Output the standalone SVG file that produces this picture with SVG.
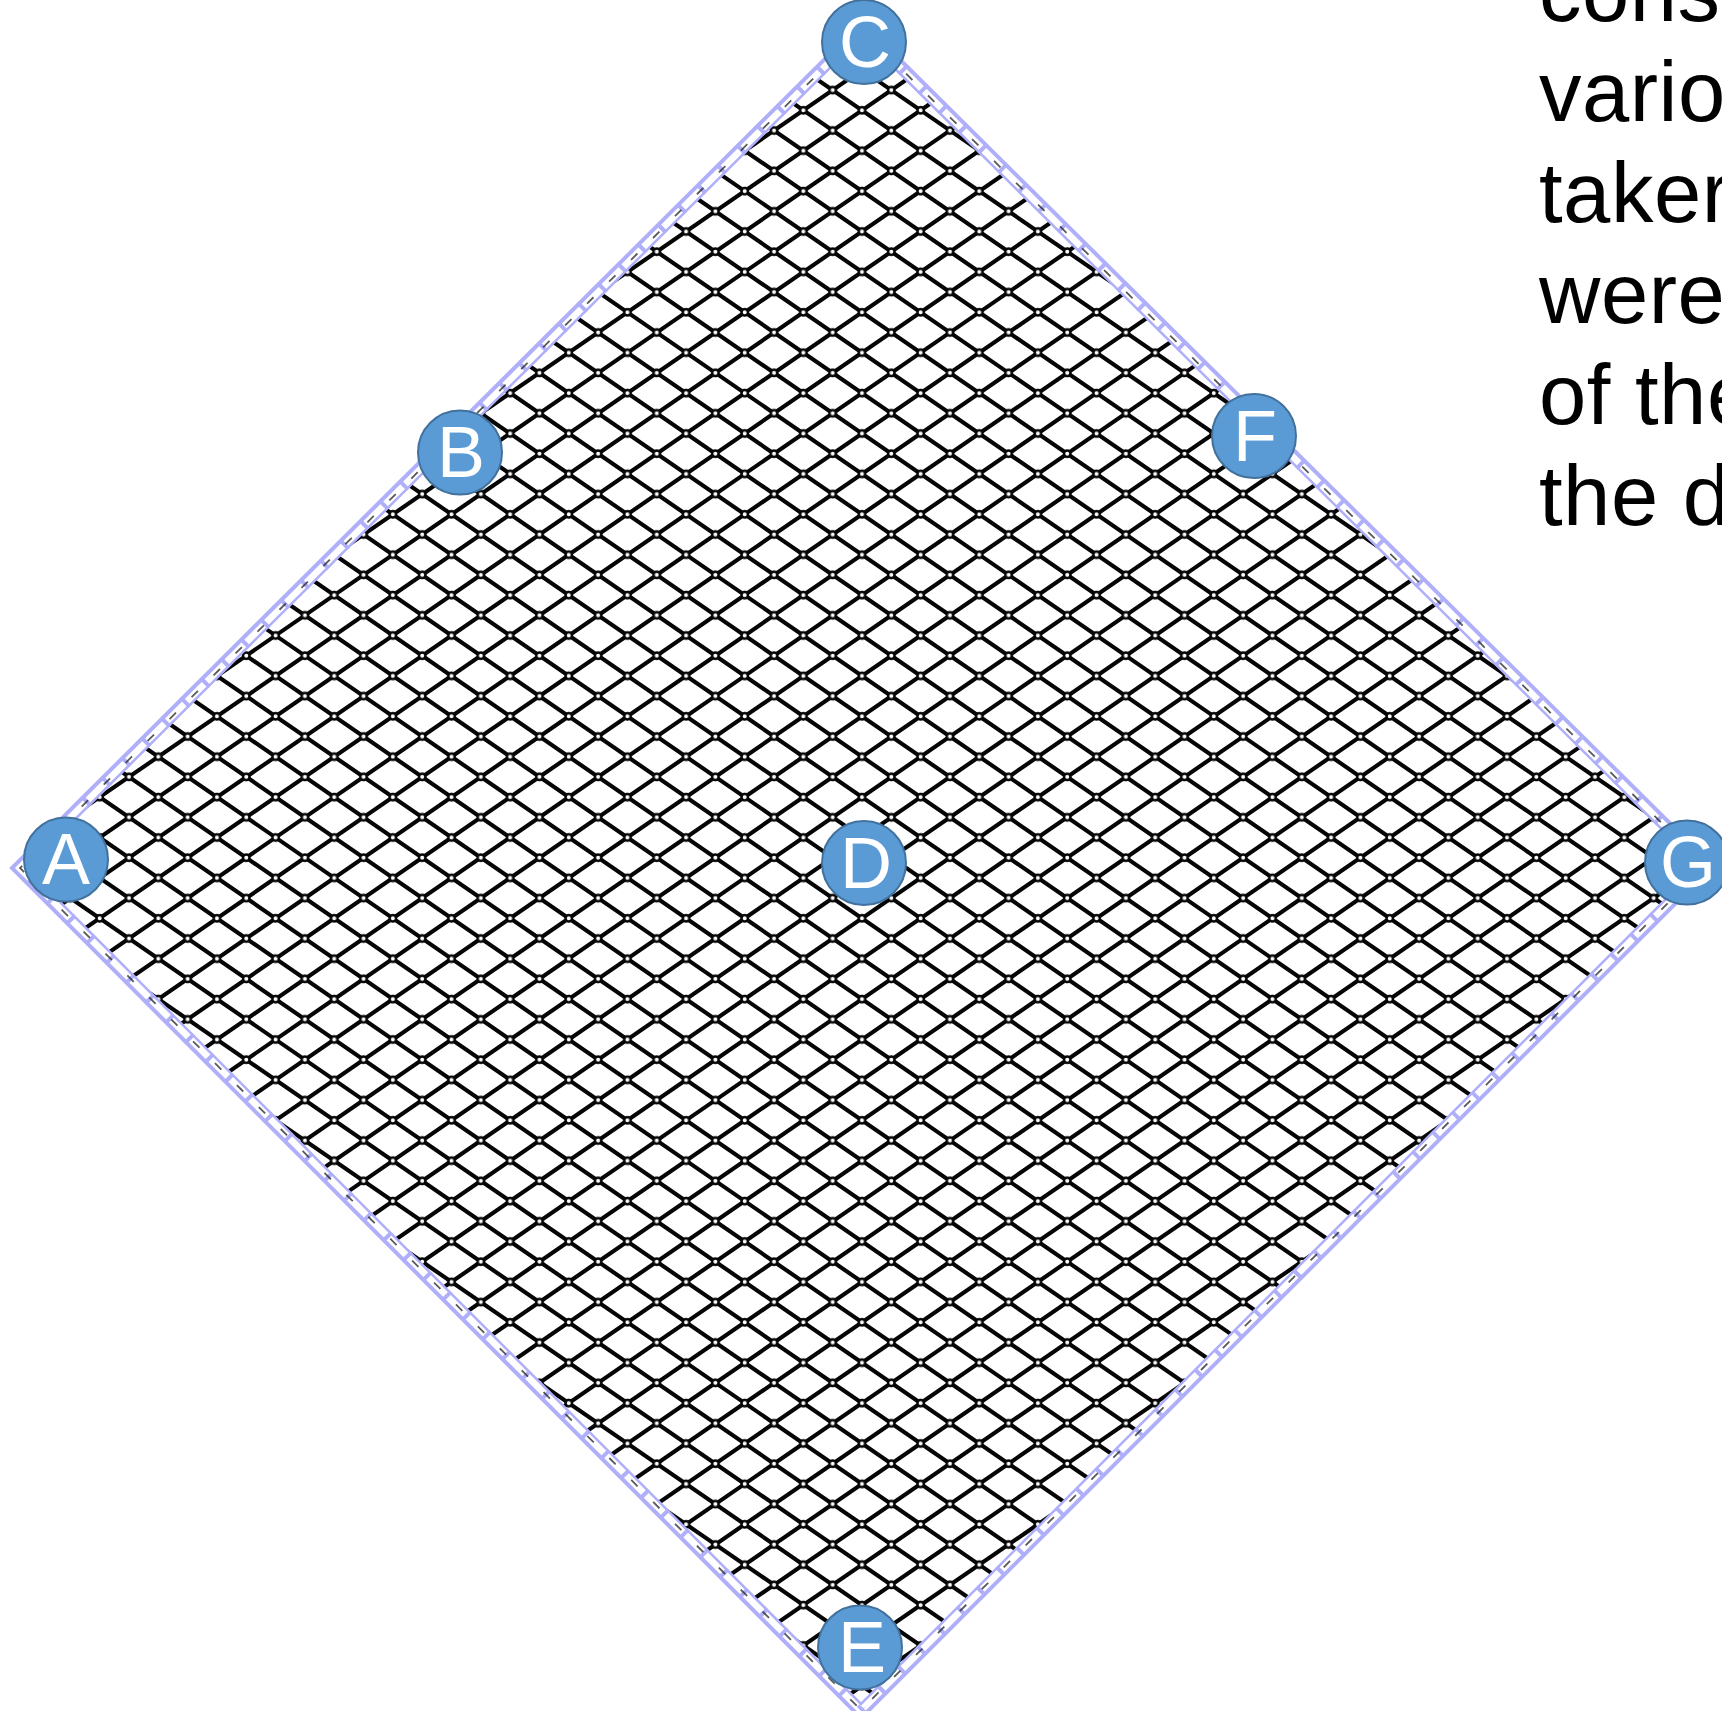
<svg xmlns="http://www.w3.org/2000/svg" width="1722" height="1711" viewBox="0 0 1722 1711">
<style>
.mesh{fill:none;stroke:#050505;stroke-width:4.1}
.lbl circle{fill:#5b9bd5;stroke:#41719c;stroke-width:2}
.lbl text{fill:#ffffff;font-family:"Liberation Sans",Arial,sans-serif;font-size:72px;text-anchor:middle}
.body{font-family:"Liberation Sans",Arial,Helvetica,sans-serif;font-size:85px;letter-spacing:0.5px;fill:#000000}
.edge{fill:none;stroke:#afaffa;stroke-linejoin:miter}
</style>
<defs>
<clipPath id="meshclip"><polygon points="862,36 1699,866 861,1704 26,868"/></clipPath>
<pattern id="nodes" patternUnits="userSpaceOnUse" x="847.34" y="827.4" width="58.64" height="40.4">
<circle cx="14.66" cy="10.1" r="3.2" fill="#ffffff" stroke="#050505" stroke-width="2.4"/>
<circle cx="43.98" cy="30.3" r="3.2" fill="#ffffff" stroke="#050505" stroke-width="2.4"/>
</pattern>
</defs>
<rect width="1722" height="1711" fill="#ffffff"/>
<g id="mesh">
<g clip-path="url(#meshclip)">
<path class="mesh" d="M-1600.88 -10.9
l2550.84 1757.4m-2492.2-1757.4 l2550.84 1757.4m-2492.2-1757.4 l2550.84 1757.4m-2492.2-1757.4 l2550.84 1757.4m-2492.2-1757.4 l2550.84 1757.4m-2492.2-1757.4
l2550.84 1757.4m-2492.2-1757.4 l2550.84 1757.4m-2492.2-1757.4 l2550.84 1757.4m-2492.2-1757.4 l2550.84 1757.4m-2492.2-1757.4 l2550.84 1757.4m-2492.2-1757.4
l2550.84 1757.4m-2492.2-1757.4 l2550.84 1757.4m-2492.2-1757.4 l2550.84 1757.4m-2492.2-1757.4 l2550.84 1757.4m-2492.2-1757.4 l2550.84 1757.4m-2492.2-1757.4
l2550.84 1757.4m-2492.2-1757.4 l2550.84 1757.4m-2492.2-1757.4 l2550.84 1757.4m-2492.2-1757.4 l2550.84 1757.4m-2492.2-1757.4 l2550.84 1757.4m-2492.2-1757.4
l2550.84 1757.4m-2492.2-1757.4 l2550.84 1757.4m-2492.2-1757.4 l2550.84 1757.4m-2492.2-1757.4 l2550.84 1757.4m-2492.2-1757.4 l2550.84 1757.4m-2492.2-1757.4
l2550.84 1757.4m-2492.2-1757.4 l2550.84 1757.4m-2492.2-1757.4 l2550.84 1757.4m-2492.2-1757.4 l2550.84 1757.4m-2492.2-1757.4 l2550.84 1757.4m-2492.2-1757.4
l2550.84 1757.4m-2492.2-1757.4 l2550.84 1757.4m-2492.2-1757.4 l2550.84 1757.4m-2492.2-1757.4 l2550.84 1757.4m-2492.2-1757.4 l2550.84 1757.4m-2492.2-1757.4
l2550.84 1757.4m-2492.2-1757.4 l2550.84 1757.4m-2492.2-1757.4 l2550.84 1757.4m-2492.2-1757.4 l2550.84 1757.4m-2492.2-1757.4 l2550.84 1757.4m-2492.2-1757.4
l2550.84 1757.4m-2492.2-1757.4
l2550.84 1757.4"/>
<path class="mesh" d="M920.64 -10.9
l-2550.84 1757.4m2609.48-1757.4 l-2550.84 1757.4m2609.48-1757.4 l-2550.84 1757.4m2609.48-1757.4 l-2550.84 1757.4m2609.48-1757.4 l-2550.84 1757.4m2609.48-1757.4
l-2550.84 1757.4m2609.48-1757.4 l-2550.84 1757.4m2609.48-1757.4 l-2550.84 1757.4m2609.48-1757.4 l-2550.84 1757.4m2609.48-1757.4 l-2550.84 1757.4m2609.48-1757.4
l-2550.84 1757.4m2609.48-1757.4 l-2550.84 1757.4m2609.48-1757.4 l-2550.84 1757.4m2609.48-1757.4 l-2550.84 1757.4m2609.48-1757.4 l-2550.84 1757.4m2609.48-1757.4
l-2550.84 1757.4m2609.48-1757.4 l-2550.84 1757.4m2609.48-1757.4 l-2550.84 1757.4m2609.48-1757.4 l-2550.84 1757.4m2609.48-1757.4 l-2550.84 1757.4m2609.48-1757.4
l-2550.84 1757.4m2609.48-1757.4 l-2550.84 1757.4m2609.48-1757.4 l-2550.84 1757.4m2609.48-1757.4 l-2550.84 1757.4m2609.48-1757.4 l-2550.84 1757.4m2609.48-1757.4
l-2550.84 1757.4m2609.48-1757.4 l-2550.84 1757.4m2609.48-1757.4 l-2550.84 1757.4m2609.48-1757.4 l-2550.84 1757.4m2609.48-1757.4 l-2550.84 1757.4m2609.48-1757.4
l-2550.84 1757.4m2609.48-1757.4 l-2550.84 1757.4m2609.48-1757.4 l-2550.84 1757.4m2609.48-1757.4 l-2550.84 1757.4m2609.48-1757.4 l-2550.84 1757.4m2609.48-1757.4
l-2550.84 1757.4m2609.48-1757.4 l-2550.84 1757.4m2609.48-1757.4 l-2550.84 1757.4m2609.48-1757.4 l-2550.84 1757.4m2609.48-1757.4 l-2550.84 1757.4m2609.48-1757.4
l-2550.84 1757.4m2609.48-1757.4
l-2550.84 1757.4"/>
</g>
<polygon points="862,36 1699,866 861,1704 26,868" fill="url(#nodes)"/>
</g>
<g id="border">
<polygon class="edge" points="862,22 1713,866 861,1718 12,868" stroke-width="4"/>
<polygon class="edge" points="862,36 1699,866 861,1704 26,868" stroke-width="2.5"/>
<polygon class="edge" points="862,29 1706,866 861,1711 19,868" stroke-width="12" stroke-dasharray="4 24"/>
<polygon points="862,30 1705,866 861,1710 20,868" fill="none" stroke="#222" stroke-width="1.8" stroke-dasharray="9 22" opacity="0.75"/>
</g>
<g id="node-C" class="lbl"><circle cx="864" cy="42" r="42"/><text x="865" y="67">C</text></g>
<g id="node-B" class="lbl"><circle cx="460" cy="452.5" r="42"/><text x="461" y="477">B</text></g>
<g id="node-F" class="lbl"><circle cx="1254" cy="436" r="42"/><text x="1255" y="461">F</text></g>
<g id="node-A" class="lbl"><circle cx="66" cy="859.5" r="42"/><text x="66" y="884">A</text></g>
<g id="node-D" class="lbl"><circle cx="864" cy="863" r="42"/><text x="866" y="888">D</text></g>
<g id="node-G" class="lbl"><circle cx="1687" cy="862.5" r="42"/><text x="1688" y="887">G</text></g>
<g id="node-E" class="lbl"><circle cx="860" cy="1647.5" r="42"/><text x="862" y="1672">E</text></g>
<g id="caption" class="body">
<text x="1539" y="20.5">cons</text>
<text x="1539" y="121.4">vario</text>
<text x="1539" y="222.3">taker</text>
<text x="1539" y="323.2">were</text>
<text x="1539" y="424.1">of the</text>
<text x="1539" y="525">the d</text>
</g>
</svg>
